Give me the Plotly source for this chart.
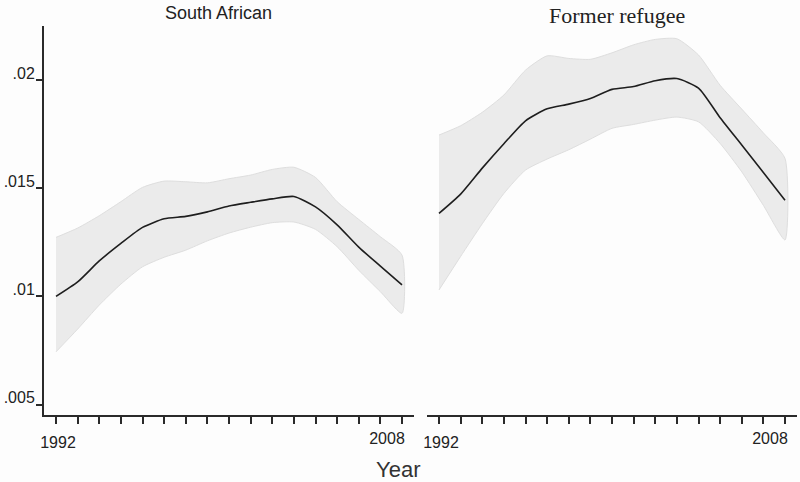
import plotly.graph_objects as go

years = list(range(1992, 2009))

sa_fit = [0.0100, 0.01067, 0.01164, 0.01245, 0.01319, 0.01359, 0.01370, 0.01391, 0.01418,
          0.01435, 0.01451, 0.01462, 0.01414, 0.01331, 0.01228, 0.01140, 0.01053]
sa_upper = [0.01273, 0.01316, 0.01373, 0.01438, 0.01504, 0.01533, 0.01530, 0.01525, 0.01544,
            0.01561, 0.01587, 0.01597, 0.01550, 0.01438, 0.01356, 0.01276, 0.01191]
sa_lower = [0.00744, 0.00849, 0.00960, 0.01057, 0.01137, 0.01181, 0.01214, 0.01257, 0.01293,
            0.01320, 0.01341, 0.01344, 0.01310, 0.01230, 0.01121, 0.01022, 0.00922]

fr_fit = [0.01384, 0.01473, 0.01593, 0.01706, 0.01812, 0.01867, 0.01889, 0.01915, 0.01957,
          0.01970, 0.01997, 0.02007, 0.01963, 0.01826, 0.01700, 0.01573, 0.01445]
fr_upper = [0.01746, 0.01789, 0.01851, 0.01931, 0.02046, 0.02112, 0.02100, 0.02096, 0.02126,
            0.02163, 0.02188, 0.02191, 0.02116, 0.01976, 0.01866, 0.01756, 0.01638]
fr_lower = [0.01030, 0.01185, 0.01336, 0.01476, 0.01584, 0.01635, 0.01678, 0.01727, 0.01777,
            0.01795, 0.01815, 0.01829, 0.01807, 0.01707, 0.01576, 0.01421, 0.01261]

panel_titles = ["South African", "Former refugee"]
y_tickvals = [0.005, 0.01, 0.015, 0.02]
y_ticktext = [".005", ".01", ".015", ".02"]
x_first_year = 1992
x_last_year = 2008
x_axis_title = "Year"

AXIS_COLOR = "#2a2a2a"
BAND_FILL = "#ebebeb"
BAND_EDGE = "#dedede"
LINE_COLOR = "#1e1e1e"
SANS = "Arial, Liberation Sans, sans-serif"
X_RANGE = [1991.445, 2008.555]

fig = go.Figure()

for xa, fit, up, lo in [("x", sa_fit, sa_upper, sa_lower), ("x2", fr_fit, fr_upper, fr_lower)]:
    fig.add_trace(go.Scatter(
        x=years + years[::-1], y=up + lo[::-1], xaxis=xa, yaxis="y",
        fill="toself", fillcolor=BAND_FILL, mode="lines",
        line=dict(color=BAND_EDGE, width=1, shape="spline", smoothing=0.6),
        hoverinfo="skip", showlegend=False))
    fig.add_trace(go.Scatter(
        x=years, y=fit, xaxis=xa, yaxis="y", mode="lines",
        line=dict(color=LINE_COLOR, width=1.6, shape="spline", smoothing=0.6),
        showlegend=False))

# empty traces so the overlay label axes get drawn (they carry no marks)
for xa in ("x3", "x4"):
    fig.add_trace(go.Scatter(x=[], y=[], xaxis=xa, yaxis="y", mode="lines",
                             hoverinfo="skip", showlegend=False))

tickfont = dict(family=SANS, size=16, color="#222")

# main axes: line, all yearly ticks, first-year label
xmain = dict(
    range=X_RANGE, showgrid=False, zeroline=False, automargin=False,
    showline=True, linecolor=AXIS_COLOR, linewidth=2,
    tickvals=[x_first_year, x_last_year], ticktext=[str(x_first_year), ""],
    ticks="outside", ticklen=7, tickwidth=1.5, tickcolor=AXIS_COLOR,
    tickfont=tickfont, ticklabelstandoff=5, ticklabelshift=2,
    minor=dict(dtick=1, tick0=x_first_year, ticks="outside", ticklen=7, tickwidth=1.5,
               tickcolor=AXIS_COLOR, showgrid=False),
    anchor="y",
)
# overlay axes: last-year label only (placed left of its tick as in the original)
xover = dict(
    range=X_RANGE, showgrid=False, zeroline=False, automargin=False,
    showline=False, ticks="", tickvals=[x_last_year], ticktext=[str(x_last_year)],
    tickfont=tickfont, ticklabelstandoff=12, ticklabelshift=-15,
    ticklabeloverflow="allow", anchor="y", side="bottom",
)

L, R, T, B = 44, 3, 26, 67
W = 800 - L - R
H = 482 - T - B
d1 = (414 - L) / W
d2 = (427 - L) / W

def px_x(px):
    return (px - L) / W

def px_y(py):
    return 1 - (py - T) / H

fig.update_layout(
    template="none",
    width=800, height=482,
    margin=dict(l=L, r=R, t=T, b=B, autoexpand=False),
    paper_bgcolor="#fdfdfd", plot_bgcolor="#fdfdfd",
    showlegend=False,
    xaxis=dict(domain=[0, d1], **xmain),
    xaxis2=dict(domain=[d2, 1], **xmain),
    xaxis3=dict(domain=[0, d1], overlaying="x", **xover),
    xaxis4=dict(domain=[d2, 1], overlaying="x2", **xover),
    yaxis=dict(
        range=[0.00452, 0.0225], domain=[0, 1], anchor="x", automargin=False,
        showgrid=False, zeroline=False,
        showline=True, linecolor=AXIS_COLOR, linewidth=2,
        tickvals=y_tickvals, ticktext=y_ticktext,
        ticks="outside", ticklen=6, tickwidth=1.5, tickcolor=AXIS_COLOR,
        tickfont=tickfont,
        ticklabelshift=-7, ticklabelstandoff=-2,
    ),
    annotations=[
        dict(text=panel_titles[0], xref="paper", yref="paper", x=px_x(218), y=px_y(13),
             xanchor="center", yanchor="middle", showarrow=False,
             font=dict(family=SANS, size=18, color="#222")),
        dict(text=panel_titles[1], xref="paper", yref="paper", x=px_x(617), y=px_y(15),
             xanchor="center", yanchor="middle", showarrow=False,
             font=dict(family="Times New Roman, Liberation Serif, serif", size=22, color="#222")),
        dict(text=x_axis_title, xref="paper", yref="paper", x=px_x(398), y=px_y(469),
             xanchor="center", yanchor="middle", showarrow=False,
             font=dict(family=SANS, size=22, color="#333")),
    ],
)

fig.write_html(
    "out.html",
    config={"displayModeBar": False},
    post_script="document.body.style.margin='0';document.body.style.overflow='hidden';",
)
